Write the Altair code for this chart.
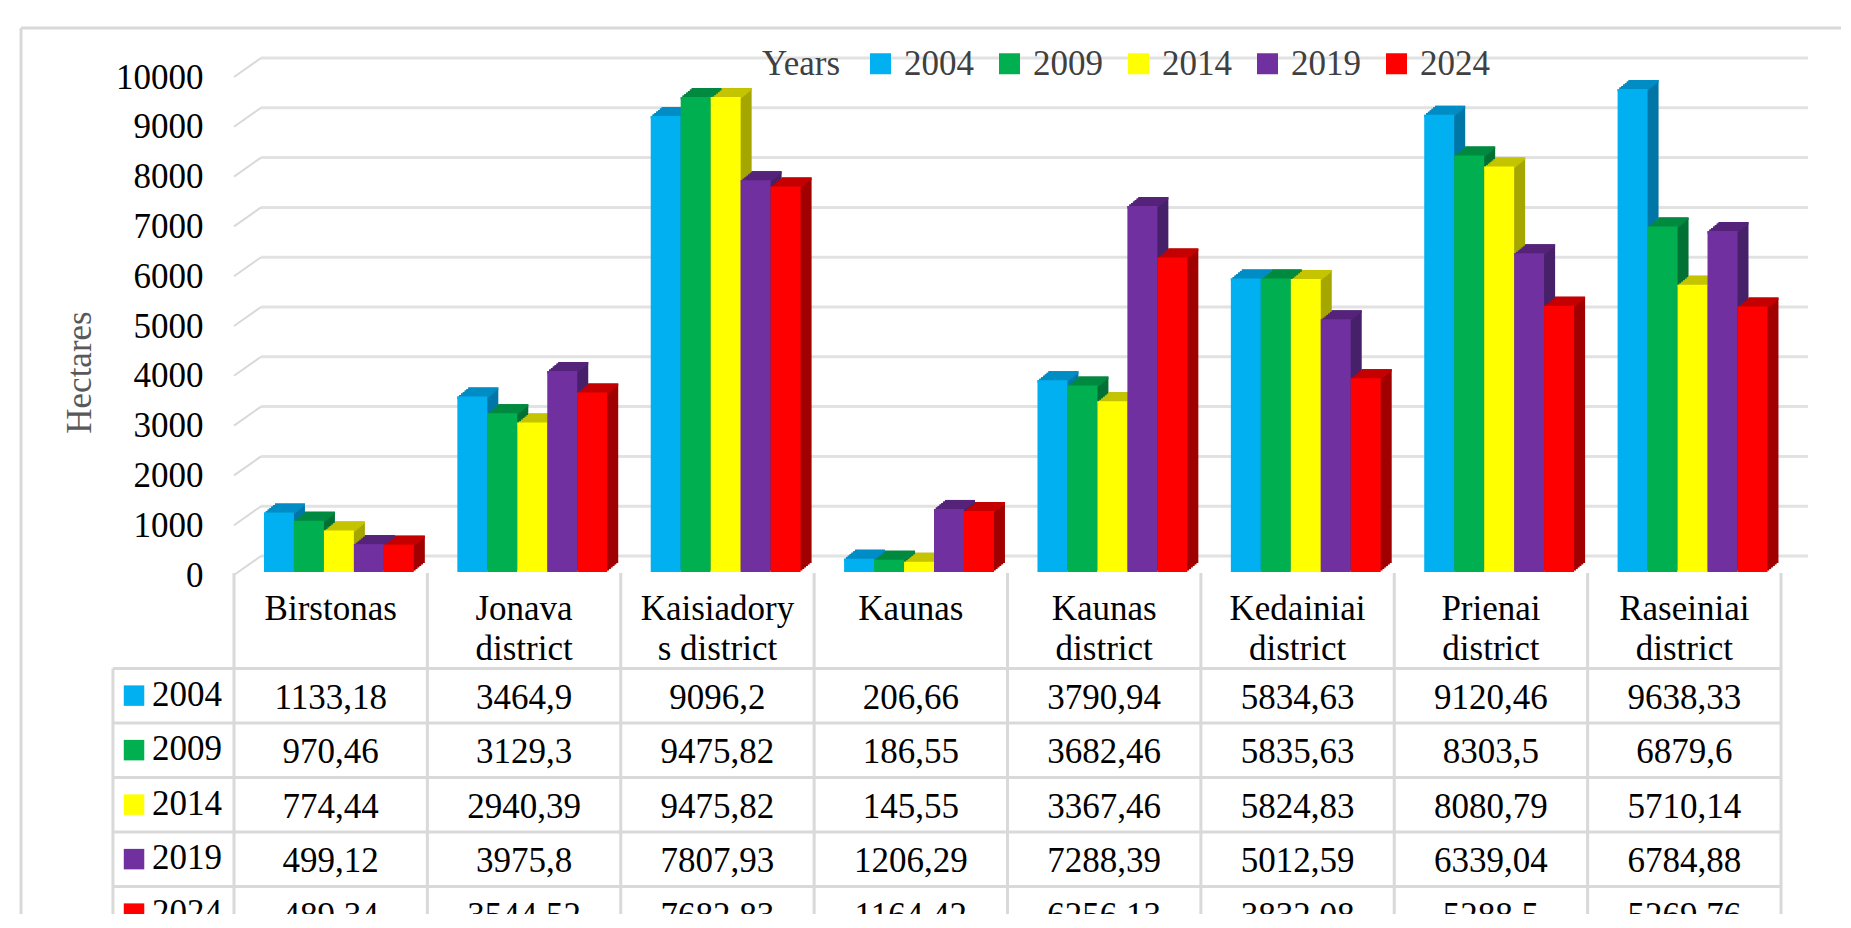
import altair as alt
import pandas as pd

FONT = "Liberation Serif"

# ---------------- data ----------------
districts = ["Birstonas", "Jonava district", "Kaisiadorys district", "Kaunas",
             "Kaunas district", "Kedainiai district", "Prienai district", "Raseiniai district"]
header_labels = ["Birstonas", "Jonava\ndistrict", "Kaisiadory\ns district", "Kaunas",
                 "Kaunas\ndistrict", "Kedainiai\ndistrict", "Prienai\ndistrict", "Raseiniai\ndistrict"]
years = ["2004", "2009", "2014", "2019", "2024"]
v2004 = [1133.18, 3464.9, 9096.2, 206.66, 3790.94, 5834.63, 9120.46, 9638.33]
v2009 = [970.46, 3129.3, 9475.82, 186.55, 3682.46, 5835.63, 8303.5, 6879.6]
v2014 = [774.44, 2940.39, 9475.82, 145.55, 3367.46, 5824.83, 8080.79, 5710.14]
v2019 = [499.12, 3975.8, 7807.93, 1206.29, 7288.39, 5012.59, 6339.04, 6784.88]
v2024 = [489.34, 3544.52, 7682.83, 1164.42, 6256.13, 3832.08, 5288.5, 5269.76]
series = [v2004, v2009, v2014, v2019, v2024]
y_ticks = [0, 1000, 2000, 3000, 4000, 5000, 6000, 7000, 8000, 9000, 10000]

colors = ["#00B0F0", "#00B050", "#FFFF00", "#7030A0", "#FF0000"]
top_colors = ["#008CC4", "#008A40", "#C4C400", "#55237A", "#C40000"]
side_colors = ["#0076A6", "#007034", "#A6A600", "#47206A", "#A00000"]

# ---------------- layout ----------------
W, H = 1820, 886
PAD = {"left": 13, "top": 20, "right": 0, "bottom": 0}
X_RANGE = [213, 1760]            # 8 district columns
Y_RANGE = [547, 49]              # 0 .. 10000 hectares (front plane)
ROW_H = 54.5
HEAD_ROWS = 1.75                 # header height in row units
N_ROWS = HEAD_ROWS + 5
T_RANGE = [545, 545 + ROW_H * N_ROWS]
BAR_GAP = 0.155
BAR_W = 0.155
DEPTH_X, DEPTH_Y = 27, 19        # wall depth
BDX, BDY = 11, 9                 # bar depth
TOP_SHIFT, BASE_SHIFT = -6, -3
LEG_LEFT = -0.626
AXIS_X = 182


def xs():
    return alt.Scale(domain=[0, 8], range=X_RANGE)


def ys():
    return alt.Scale(domain=[0, 10000], range=Y_RANGE)


def ts():
    return alt.Scale(domain=[0, N_ROWS], range=T_RANGE)


def fmt(v):
    return str(v).replace(".", ",")


rows = []
for j, yr in enumerate(years):
    for i, d in enumerate(districts):
        x0 = i + BAR_GAP + BAR_W * j
        rows.append(dict(district=d, year=yr, value=series[j][i], x0=x0, x1=x0 + BAR_W,
                         base=0, side=side_colors[j], top=top_colors[j],
                         label=fmt(series[j][i]), col=i + 0.5, row=HEAD_ROWS + j + 0.5))
df = pd.DataFrame(rows)

grid_df = pd.DataFrame({"v": y_ticks, "xa": [0] * len(y_ticks), "xb": [8] * len(y_ticks)})

# ---------------- plot part ----------------
base = alt.Chart(df)

wall = alt.Chart(grid_df).mark_rule(color="#e2e2e2", strokeWidth=3,
                                    xOffset=DEPTH_X, x2Offset=DEPTH_X, yOffset=-DEPTH_Y).encode(
    x=alt.X("xa:Q", scale=xs(), axis=None),
    x2="xb:Q",
    y=alt.Y("v:Q", scale=ys(), axis=alt.Axis(
        values=y_ticks, format="d", title="Hectares", offset=-AXIS_X, domain=False,
        ticks=False, tickSize=0, labelPadding=0, grid=False, labelFont=FONT,
        labelFontSize=35, labelColor="#000000", titleFont=FONT, titleFontSize=35,
        titleFontWeight="normal", titleColor="#595959", titleAngle=270, titleX=-124,
        titleY=344, titleAlign="center", titleBaseline="middle")),
)

diag = alt.Chart(grid_df).mark_rule(color="#d9d9d9", strokeWidth=2,
                                    x2Offset=DEPTH_X, y2Offset=-DEPTH_Y).encode(
    x=alt.X("xa:Q", scale=xs(), axis=None), x2="xa:Q",
    y=alt.Y("v:Q", scale=ys(), axis=None), y2="v:Q",
)

N = 6
side_layers = []
top_layers = []
for k in range(1, N + 1):
    f = k / N
    side_layers.append(base.mark_bar(
        xOffset=f * BDX, x2Offset=f * BDX,
        yOffset=TOP_SHIFT - f * BDY, y2Offset=BASE_SHIFT - f * BDY).encode(
        x=alt.X("x0:Q", scale=xs(), axis=None), x2="x1:Q",
        y=alt.Y("value:Q", scale=ys(), axis=None), y2="base:Q",
        color=alt.Color("side:N", scale=None, legend=None)))
for k in range(0, N + 1):
    f = k / N
    top_layers.append(base.mark_bar(
        xOffset=f * BDX, x2Offset=f * BDX,
        yOffset=TOP_SHIFT - f * BDY, y2Offset=TOP_SHIFT - f * BDY + 2.5).encode(
        x=alt.X("x0:Q", scale=xs(), axis=None), x2="x1:Q",
        y=alt.Y("value:Q", scale=ys(), axis=None), y2="value:Q",
        color=alt.Color("top:N", scale=None, legend=None)))

front = base.mark_bar(yOffset=TOP_SHIFT, y2Offset=BASE_SHIFT).encode(
    x=alt.X("x0:Q", scale=xs(), axis=None), x2="x1:Q",
    y=alt.Y("value:Q", scale=ys(), axis=None), y2="base:Q",
    color=alt.Color("year:N", scale=alt.Scale(domain=years, range=colors),
                    legend=alt.Legend(
                        title="Years", orient="none", legendX=741, legendY=18,
                        direction="horizontal", columns=5, titleOrient="left",
                        titleFont=FONT, titleFontSize=35, titleFontWeight="normal",
                        titleColor="#404040", titlePadding=22, titleBaseline="middle",
                        labelFont=FONT, labelFontSize=35, labelColor="#404040",
                        symbolType="square", symbolSize=441, symbolStrokeWidth=0,
                        labelOffset=6, columnPadding=18, padding=0)),
    tooltip=["district:N", "year:N", "value:Q"],
)

# ---------------- table part ----------------
head_df = pd.DataFrame({"h": header_labels, "col": [i + 0.5 for i in range(8)],
                        "t": [0.862] * 8})
head = alt.Chart(head_df).mark_text(font=FONT, fontSize=35, color="#000000", align="center",
                                    baseline="alphabetic", lineBreak="\n", lineHeight=40).encode(
    x=alt.X("col:Q", scale=xs(), axis=None), y=alt.Y("t:Q", scale=ts(), axis=None), text="h:N")

cells = alt.Chart(df).mark_text(font=FONT, fontSize=35, color="#000000", align="center",
                                baseline="middle", dy=2).encode(
    x=alt.X("col:Q", scale=xs(), axis=None), y=alt.Y("row:Q", scale=ts(), axis=None),
    text="label:N")

yl_df = pd.DataFrame({"year": years, "t": [HEAD_ROWS + k + 0.5 for k in range(5)],
                      "lx": [-0.424] * 5, "sx": [-0.517] * 5, "c": colors})
row_lab = alt.Chart(yl_df).mark_text(font=FONT, fontSize=35, color="#000000", align="left",
                                     baseline="middle", dy=-1).encode(
    x=alt.X("lx:Q", scale=xs(), axis=None), y=alt.Y("t:Q", scale=ts(), axis=None),
    text="year:N")
row_sw = alt.Chart(yl_df).mark_square(size=420, opacity=1, filled=True).encode(
    x=alt.X("sx:Q", scale=xs(), axis=None), y=alt.Y("t:Q", scale=ts(), axis=None),
    color=alt.Color("c:N", scale=None, legend=None))

vl_df = pd.DataFrame({"x": list(range(9)) + [LEG_LEFT],
                      "t0": [0] * 9 + [HEAD_ROWS], "t1": [N_ROWS] * 10})
vlines = alt.Chart(vl_df).mark_rule(color="#d9d9d9", strokeWidth=3).encode(
    x=alt.X("x:Q", scale=xs(), axis=None), y=alt.Y("t0:Q", scale=ts(), axis=None), y2="t1:Q")

hl_df = pd.DataFrame({"t": [HEAD_ROWS + k for k in range(6)],
                      "xa": [LEG_LEFT] * 6, "xb": [8] * 6})
hlines = alt.Chart(hl_df).mark_rule(color="#d9d9d9", strokeWidth=3).encode(
    x=alt.X("xa:Q", scale=xs(), axis=None), x2="xb:Q", y=alt.Y("t:Q", scale=ts(), axis=None))

# ---------------- outer frame ----------------
one = pd.DataFrame({"a": [0]})
frame_top = alt.Chart(one).mark_rule(color="#d9d9d9", strokeWidth=3).encode(
    x=alt.value(0), x2=alt.value(W), y=alt.value(0))
frame_left = alt.Chart(one).mark_rule(color="#d9d9d9", strokeWidth=3).encode(
    x=alt.value(0), y=alt.value(0), y2=alt.value(H))

chart = alt.layer(
    frame_top, frame_left, wall, diag, *side_layers, *top_layers, front,
    vlines, hlines, head, cells, row_sw, row_lab
).resolve_scale(y="independent", color="independent").properties(
    width=W, height=H, padding=PAD, autosize=alt.AutoSizeParams(type="none"),
    background="white"
).configure_view(stroke=None).configure(font=FONT)

chart.save("out.html", embed_options={"renderer": "svg", "actions": False})
